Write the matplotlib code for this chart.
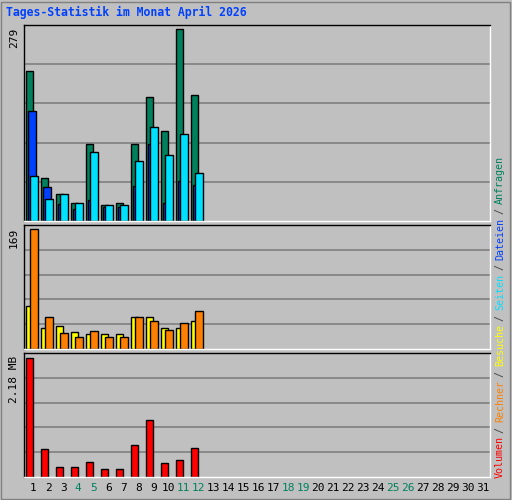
import matplotlib.pyplot as plt
from matplotlib.patches import Rectangle

days = list(range(1, 32))
weekend = [4, 5, 11, 12, 18, 19, 25, 26]

# Anfragen / Dateien / Seiten (first 12 days)
hits = [219, 63, 39, 26, 112, 23, 26, 112, 180, 131, 279, 184]
files = [160, 50, 25, 18, 31, 20, 20, 51, 112, 26, 58, 53]
pages = [66, 32, 39, 26, 101, 23, 23, 88, 137, 96, 127, 70]
# Besuche / Rechner
visits = [61, 29, 32, 24, 21, 21, 21, 45, 45, 29, 30, 39]
sites = [169, 45, 23, 17, 25, 17, 17, 45, 40, 27, 37, 53]
# Volumen in MB
volume = [2.18, 0.52, 0.19, 0.19, 0.27, 0.15, 0.15, 0.59, 1.05, 0.25, 0.32, 0.54]

W, H = 512, 500
fig = plt.figure(figsize=(W / 100, H / 100), dpi=100, facecolor='#c0c0c0')
fig.patches.append(Rectangle((1, 1), W - 3, H - 3, transform=None, fill=False,
                             edgecolor='#808080', lw=1))

mono = 'DejaVu Sans Mono'
bg = '#c0c0c0'
green, blue, cyan = '#00805c', '#0040ff', '#00e0ff'
yellow, orange, red = '#ffff00', '#ff8000', '#ff0000'


def make_ax(top, bottom):
    ax = fig.add_axes([24 / W, 1 - bottom / H, 466 / W, (bottom - top) / H])
    ax.set_facecolor(bg)
    for f in [0.2, 0.4, 0.6, 0.8]:
        ax.plot([0, 1], [f, f], color='#808080', lw=1.2, transform=ax.transAxes, zorder=0)
    ax.set_xlim(-0.07, 31.0)
    ax.set_xticks([])
    ax.set_yticks([])
    for s in ax.spines.values():
        s.set_color('black')
        s.set_linewidth(1)
    ax.spines['bottom'].set_color('white')
    ax.spines['right'].set_color('white')
    return ax


def bars(ax, vals, off, w, color):
    x = [i + off for i in range(len(vals))]
    ax.bar(x, vals, width=w, align='edge', color=color, edgecolor='black', lw=1, zorder=2)


ax1 = make_ax(25, 221)
ax1.set_ylim(0, 279 / 0.978)
bars(ax1, hits, 0.07, 0.49, green)
bars(ax1, files, 0.22, 0.49, blue)
bars(ax1, pages, 0.33, 0.51, cyan)

ax2 = make_ax(225, 349)
ax2.set_ylim(0, 169 / 0.97)
bars(ax2, visits, 0.07, 0.49, yellow)
bars(ax2, sites, 0.33, 0.51, orange)

ax3 = make_ax(353, 477)
ax3.set_ylim(0, 2.18 / 0.96)
bars(ax3, volume, 0.07, 0.49, red)

# day labels
for d in days:
    ax3.text(d - 0.45, -0.05, str(d), transform=ax3.get_xaxis_transform(), ha='center', va='top',
             fontsize=8, family=mono, color=green if d in weekend else 'black')

# y max labels
fig.text(14 / W, 1 - 28 / H, '279', rotation=90, ha='center', va='top', fontsize=8, family=mono)
fig.text(14 / W, 1 - 228 / H, '169', rotation=90, ha='center', va='top', fontsize=8, family=mono)
fig.text(14 / W, 1 - 356 / H, '2.18 MB', rotation=90, ha='center', va='top', fontsize=8, family=mono)

fig.text(6 / W, 1 - 12 / H, 'Tages-Statistik im Monat April 2026', ha='left', va='center',
         fontsize=8.3, family=mono, weight='bold', color='#0040ff')

# right side legend
parts = [('Volumen', red), (' / ', '#404040'), ('Rechner', orange), (' / ', '#404040'),
         ('Besuche', yellow), (' / ', '#404040'), ('Seiten', cyan), (' / ', '#404040'),
         ('Dateien', blue), (' / ', '#404040'), ('Anfragen', green)]
cw = 5.6
ypix = 478
for txt, col in parts:
    fig.text(500 / W, 1 - ypix / H, txt, rotation=90, ha='center', va='bottom',
             fontsize=7.2, family=mono, color=col)
    ypix -= cw * len(txt)

fig.savefig('out.png', dpi=100, facecolor=fig.get_facecolor())
